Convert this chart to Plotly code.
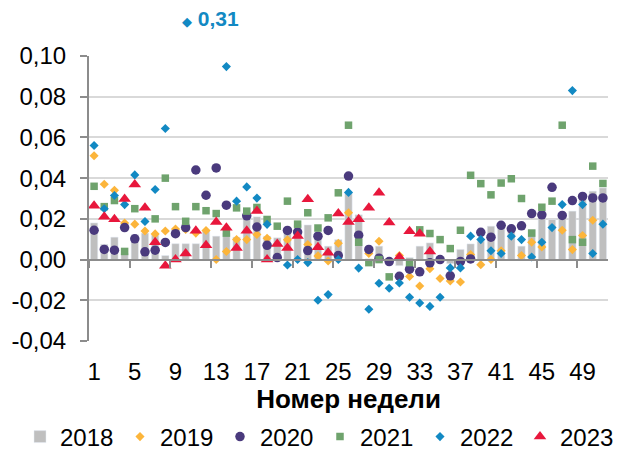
import plotly.graph_objects as go

weeks = list(range(1, 52))

y2018 = [0.018, 0.0075, 0.011, 0.003, 0.0123, 0.013, 0.012, 0.002, 0.0078, 0.0078,
         0.0078, 0.014, 0.0115, 0.013, 0.011, 0.020, 0.021, 0.0115, 0.0107, 0.0148,
         0.0172, 0.017, 0.013, 0.0066, 0.0098, 0.0325, 0.022, 0.0, 0.0066, -0.001,
         -0.003, 0.001, 0.0066, 0.0082, 0.001, -0.002, 0.005, 0.0077, 0.009, 0.0164,
         0.015, 0.0148, 0.0066, 0.0148, 0.0213, 0.0197, 0.0221, 0.0238, 0.032, 0.0336,
         0.0352]

y2019 = [0.051, 0.037, 0.034, 0.018, 0.0174, 0.014, 0.0126, 0.014, 0.015, 0.0148,
         0.013, 0.0143, 0.0, 0.004, 0.0098, 0.0098, 0.0123, 0.0105, None, 0.0097,
         None, 0.0074, 0.0018, -0.0007, 0.008, 0.023, None, 0.003, 0.009, None,
         0.002, -0.0083, -0.013, -0.0045, -0.0093, -0.0105, -0.011, 0.0025, -0.0025, 0.0,
         0.0043, None, 0.002, 0.0085, 0.0062, None, 0.0144, 0.0049, 0.0118, 0.0193,
         None]

y2020 = [0.0144, 0.005, 0.0046, 0.0157, 0.0102, 0.0038, 0.0046, 0.0084, 0.0127, 0.0157,
         0.044, 0.0316, 0.045, 0.0267, None, 0.0215, 0.016, 0.007, 0.001, 0.0143,
         0.0135, 0.0044, 0.0115, 0.0143, 0.002, 0.041, 0.012, 0.005, 0.0007, -0.001,
         -0.0082, -0.0047, -0.006, -0.0016, 0.0, -0.008, -0.001, 0.0003, 0.0134, 0.011,
         0.0168, 0.0151, 0.0166, 0.0226, 0.022, 0.0355, 0.0217, 0.029, 0.031, 0.0303,
         0.0303]

y2021 = [0.036, 0.026, 0.029, 0.004, 0.025, None, 0.020, 0.040, 0.026, 0.0188,
         0.026, 0.024, 0.0226, 0.013, 0.0254, 0.0238, 0.0256, 0.0197, 0.0164, 0.0287,
         0.0174, 0.023, 0.0155, 0.0205, 0.0328, 0.066, 0.0085, -0.0015, 0.0, -0.0085,
         None, -0.0015, 0.0146, 0.0128, 0.0098, 0.0054, 0.0144, 0.0414, 0.0373, 0.0318,
         0.0376, 0.0397, 0.030, 0.013, 0.0257, 0.0287, 0.066, 0.0098, 0.0085, 0.0459,
         0.0374]

y2022 = [0.056, 0.025, 0.0315, 0.027, 0.0416, 0.0187, 0.0344, 0.0644, None, 0.31,
         None, None, None, 0.0948, 0.0287, 0.0357, 0.0302, 0.0173, None, -0.0027,
         0.0, -0.0015, -0.020, -0.0172, 0.0, 0.033, -0.0042, -0.0244, -0.0116, -0.0141,
         -0.0115, -0.0185, -0.0213, -0.023, -0.0185, -0.0041, -0.0041, 0.0115, 0.0098, 0.0043,
         0.003, 0.0115, 0.0098, 0.0013, 0.0085, 0.0157, 0.027, 0.083, 0.027, 0.003,
         0.0174]

y2023 = [0.0265, 0.021, 0.0198, 0.0297, 0.0369, 0.0254, 0.0085, -0.003, 0.0, 0.003,
         0.0142, 0.007, 0.0184, 0.0156, 0.0057, 0.0141, 0.0238, 0.0, 0.0077, 0.0057,
         0.0116, 0.0296, 0.006, 0.0033, 0.0226, 0.0184, 0.0198, 0.0254, 0.0328, 0.0182,
         0.0012, 0.0139, 0.0127, 0.004]

x_tick_vals = [1, 5, 9, 13, 17, 21, 25, 29, 33, 37, 41, 45, 49]
x_tick_labels = ["1", "5", "9", "13", "17", "21", "25", "29", "33", "37", "41", "45", "49"]
x_tick_marks = [0.5, 4.5, 8.5, 12.5, 16.5, 20.5, 24.5, 28.5, 32.5, 36.5, 40.5, 44.5, 48.5]
y_tick_vals = [-0.04, -0.02, 0.0, 0.02, 0.04, 0.06, 0.08, 0.10]
y_tick_labels = ["-0,04", "-0,02", "0,00", "0,02", "0,04", "0,06", "0,08", "0,10"]

FONT = "Liberation Sans, Arial, sans-serif"
AXIS_GRAY = "#8c8c8c"
Y_MIN, Y_MAX = -0.04, 0.10
FS = 24
W, H = 617, 451
LEG_START = 20          # px, left edge of the legend
ENTRY_W = 55            # px, legend text slot
ENTRY_STEP = ENTRY_W + 45

fig = go.Figure()
fig.add_trace(go.Bar(x=weeks, y=y2018, name="2018", marker_color="#bfbfbf"))
fig.add_trace(go.Scatter(x=weeks, y=y2019, name="2019", mode="markers",
                         marker=dict(symbol="diamond", size=7, color="#fcb53b")))
fig.add_trace(go.Scatter(x=weeks, y=y2020, name="2020", mode="markers",
                         marker=dict(symbol="circle", size=9.5, color="#4a3a7d")))
fig.add_trace(go.Scatter(x=weeks, y=y2021, name="2021", mode="markers",
                         marker=dict(symbol="square", size=7.5, color="#6fa36d")))
fig.add_trace(go.Scatter(x=weeks, y=y2022, name="2022", mode="markers",
                         marker=dict(symbol="diamond", size=7, color="#1289c3")))
fig.add_trace(go.Scatter(x=weeks[:len(y2023)], y=y2023, name="2023", mode="markers",
                         legend="legend2",
                         marker=dict(symbol="triangle-up", size=11, color="#e8173c")))
# helper (empty) trace for the zero-line axis with tick marks
fig.add_trace(go.Scatter(x=[None], y=[None], xaxis="x2", showlegend=False, hoverinfo="skip"))

zero_pos = (0 - Y_MIN) / (Y_MAX - Y_MIN)
valid_2022 = [(v, w) for v, w in zip(y2022, weeks) if v is not None]
out_val, out_week = max(valid_2022)

legend_common = dict(orientation="h", xref="container", xanchor="left",
                     yref="container", y=(H - 437) / H, yanchor="middle",
                     font=dict(size=FS), entrywidth=ENTRY_W, itemwidth=30,
                     bgcolor="rgba(0,0,0,0)")

fig.update_layout(
    width=W, height=H,
    margin=dict(l=89, r=9, t=56, b=110),
    plot_bgcolor="white", paper_bgcolor="white",
    font=dict(family=FONT, size=FS, color="black"),
    bargap=0.28,
    separators=", ",
    xaxis=dict(range=[0.5, 51.5], tickvals=x_tick_vals, ticktext=x_tick_labels,
               showgrid=False, showline=False, zeroline=False, ticks="",
               ticklabelstandoff=14, tickfont=dict(size=FS), automargin=False,
               title=dict(text="<b>Номер недели</b>", font=dict(size=26), standoff=28)),
    xaxis2=dict(overlaying="x", anchor="free", position=zero_pos, side="bottom",
                range=[0.5, 51.5], tickvals=x_tick_marks, ticks="outside",
                ticklen=7, tickwidth=2, tickcolor=AXIS_GRAY, showticklabels=False,
                showline=True, linecolor=AXIS_GRAY, linewidth=2, automargin=False,
                showgrid=False, zeroline=False),
    yaxis=dict(range=[Y_MIN, Y_MAX], tickvals=y_tick_vals, ticktext=y_tick_labels,
               showgrid=True, gridcolor="#d9d9d9", gridwidth=1.5,
               showline=True, linecolor=AXIS_GRAY, linewidth=2,
               ticks="outside", ticklen=7, tickwidth=2, tickcolor=AXIS_GRAY,
               zeroline=False, tickfont=dict(size=FS), ticklabelstandoff=9,
               automargin=False),
    legend=dict(x=LEG_START / W, **legend_common),
    legend2=dict(x=(LEG_START + 5 * ENTRY_STEP) / W, **legend_common),
    annotations=[dict(
        x=out_week, xref="x", y=1.13, yref="paper", xanchor="left", yanchor="middle",
        xshift=-6, showarrow=False,
        text='<span style="font-family:DejaVu Sans;font-size:13px">◆</span> <b>'
             + f"{out_val:.2f}".replace(".", ",") + "</b>",
        font=dict(size=21, color="#1289c3", family=FONT))],
)

fig.write_html("out.html", config={"displayModeBar": False},
               post_script="document.body.style.margin='0';")
